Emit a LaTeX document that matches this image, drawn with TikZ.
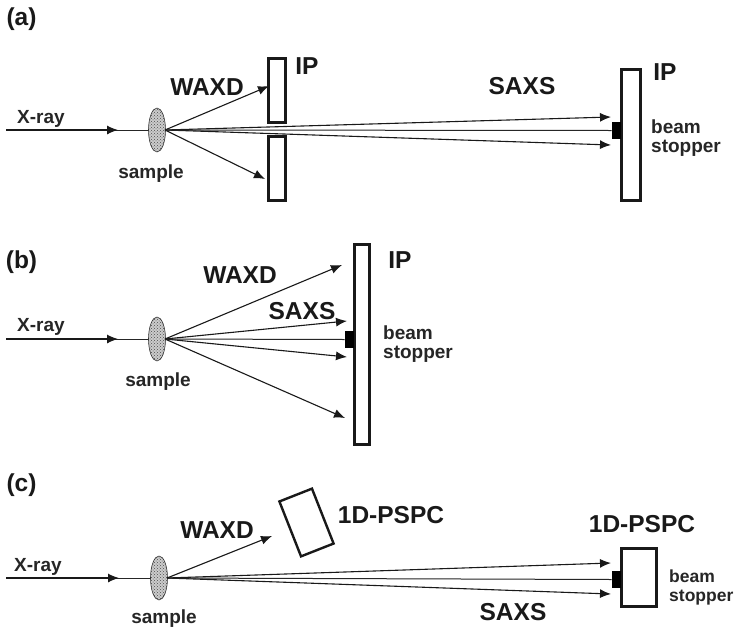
\documentclass[tikz,border=0pt]{standalone}
\usepackage{fontspec}
\setmainfont{Liberation Sans}
\usetikzlibrary{arrows.meta,patterns,shapes.geometric}
\tikzset{
  ray/.style={draw=black!90,line width=1.1pt,-{Latex[length=11pt,width=9pt]}},
  beam/.style={draw=black!85,line width=1pt},
  detector/.style={draw=black!90,line width=3pt,fill=none,inner sep=0pt},
  stopperbox/.style={fill=black,draw=none,inner sep=0pt,minimum width=9.5pt,minimum height=17pt},
  samplebody/.style={ellipse,draw=black!80,line width=.6pt,inner sep=0pt,minimum width=17pt,minimum height=44pt},
  big/.style={font=\bfseries\fontsize{24.5}{24.5}\selectfont,inner sep=0pt,text=black!90},
  small/.style={font=\bfseries\fontsize{19}{19}\selectfont,inner sep=0pt,text=black!85,align=left},
}
\newcommand{\samplenode}[2]{%
  \fill[gray!40] (#2) ellipse [x radius=8.5pt,y radius=22pt];
  \fill[pattern=crosshatch dots,pattern color=black!70] (#2) ellipse [x radius=8.5pt,y radius=22pt];
  \node[samplebody] (#1) at (#2) {};
}
\begin{document}
\begin{tikzpicture}[x=1pt,y=-1pt]
\useasboundingbox (0,0) rectangle (739,627);
\fill[white] (0,0) rectangle (739,627);
% ---- panel a
\node[big] (la) at (21.5,19) {(a)};
\samplenode{sa}{157,130}
\coordinate (ra) at (6,130);
\coordinate (ta) at (118,130);
\draw[beam] (ra) -- (sa.west);
\draw[ray] (ra) -- (ta);
\node[detector,minimum width=17pt,minimum height=64pt] (d1) at (276.5,90) {};
\node[detector,minimum width=17pt,minimum height=64pt] (d2) at (276.5,168) {};
\node[detector,minimum width=19pt,minimum height=131pt] (d3) at (630.5,134.5) {};
\node[stopperbox] (st1) at (616.5,130.5) {};
\coordinate (s1) at (165,130);
\coordinate (e1) at (269,86);
\coordinate (e2) at (265,179);
\coordinate (e3) at (611,117);
\coordinate (e4) at (611,145);
\draw[ray] (s1) -- (e1);
\draw[ray] (s1) -- (e2);
\draw[ray] (s1) -- (e3);
\draw[ray] (s1) -- (e4);
\draw[beam] (s1) -- (st1.west);
\node[small] (xa) at (41,119) {X-ray};
\node[small] (sla) at (151,174) {sample};
\node[big] (wa) at (207,87) {WAXD};
\node[big] (ipa) at (307,66) {IP};
\node[big] (sxa) at (522,86) {SAXS};
\node[big] (ipb) at (665,72) {IP};
\node[small,anchor=west] (bsa) at (651,138.5) {beam\\stopper};
% ---- panel b
\node[big] (lb) at (21.5,262) {(b)};
\samplenode{sb}{157,339}
\coordinate (rb) at (6,339);
\coordinate (tb) at (118,339);
\draw[beam] (rb) -- (sb.west);
\draw[ray] (rb) -- (tb);
\node[detector,minimum width=15pt,minimum height=200pt] (d4) at (361.5,344) {};
\node[stopperbox] (st2) at (349.5,339.5) {};
\coordinate (s2) at (165,339);
\coordinate (f1) at (342,265);
\coordinate (f2) at (347,321);
\coordinate (f3) at (347,357);
\coordinate (f4) at (345,418);
\draw[ray] (s2) -- (f1);
\draw[ray] (s2) -- (f2);
\draw[ray] (s2) -- (f3);
\draw[ray] (s2) -- (f4);
\draw[beam] (s2) -- (st2.west);
\node[small] (xb) at (41,327) {X-ray};
\node[small] (slb) at (158,382) {sample};
\node[big] (wb) at (240,275) {WAXD};
\node[big] (sxb) at (302,311) {SAXS};
\node[big] (ipc) at (400,260) {IP};
\node[small,anchor=west] (bsb) at (383,344.5) {beam\\stopper};
% ---- panel c
\node[big] (lc) at (21.5,485) {(c)};
\samplenode{sc}{159,578}
\coordinate (rc) at (6,578);
\coordinate (tc) at (119,578);
\draw[beam] (rc) -- (sc.west);
\draw[ray] (rc) -- (tc);
\node[detector,line width=2.4pt,minimum width=35pt,minimum height=59pt,rotate=21.5] (d5) at (306.5,522.5) {};
\node[detector,minimum width=35pt,minimum height=58pt] (d6) at (638.5,577) {};
\node[stopperbox] (st3) at (616.5,579.5) {};
\coordinate (s3) at (167,578);
\coordinate (g1) at (272,536);
\coordinate (g2) at (611,563);
\coordinate (g3) at (611,594);
\draw[ray] (s3) -- (g1);
\draw[ray] (s3) -- (g2);
\draw[ray] (s3) -- (g3);
\draw[beam] (s3) -- (st3.west);
\node[small] (xc) at (38,567) {X-ray};
\node[small] (slc) at (164,619) {sample};
\node[big] (wc) at (217,530) {WAXD};
\node[big] (pa) at (391,515) {1D-PSPC};
\node[big] (pb) at (642,524) {1D-PSPC};
\node[big] (sxc) at (513,612) {SAXS};
\node[small,anchor=west,font=\bfseries\fontsize{17.5}{19}\selectfont] (bsc) at (669,587) {beam\\stopper};
\end{tikzpicture}
\end{document}
